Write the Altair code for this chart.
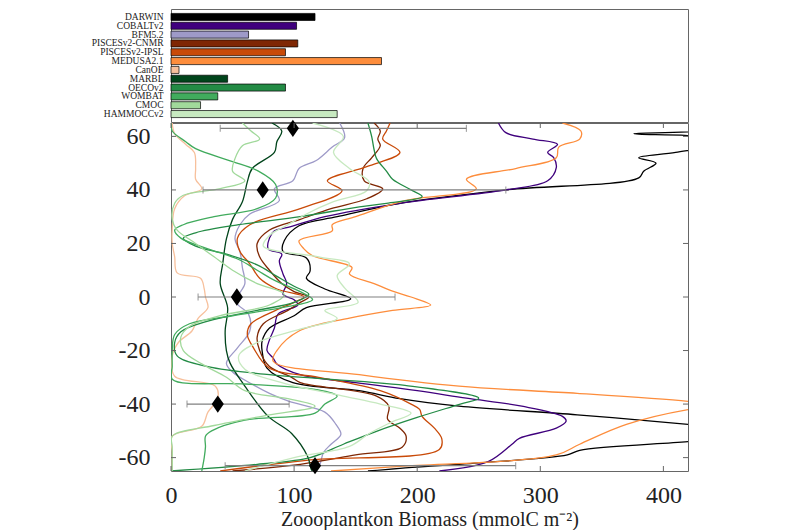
import altair as alt
import pandas as pd

MODELS = ["DARWIN", "COBALTv2", "BFM5.2", "PISCESv2-CNMR", "PISCESv2-IPSL", "MEDUSA2.1",
          "CanOE", "MARBL", "OECOv2", "WOMBAT", "CMOC", "HAMMOCCv2"]
COLORS = ["#000000", "#3f007d", "#9e9ac8", "#7f2704", "#c94a08", "#fd8d3c",
          "#f7c09c", "#00441b", "#238b45", "#41ab5d", "#a1d99b", "#c7e9c0"]
BAR_VALUES = [117, 102, 63, 103, 93, 171, 6.5, 46, 93, 38, 24, 135]

DARWIN_LAT = [65, 63, 61, 59, 57, 54, 52, 50, 47, 44.5, 40, 35, 30, 26.6, 21, 17, 14.6, 9.7, 7, 3, -0.7, -4, -7, -11.6, -16.5, -20, -26.6, -32, -35, -38, -40.8, -44, -47.6, -50, -52, -54, -57.3, -59, -62, -64, -65]
DARWIN_VAL = [440, 440, 376, 440, 440, 410, 380, 394, 384, 380, 272, 186, 135, 104, 92, 91, 110, 113, 110, 125, 146, 110, 100, 80, 74, 74, 78, 99, 153, 186, 234, 330, 421, 470, 470, 421, 332, 322, 250, 186, 160]

COBALT_LAT = [65, 61.4, 59, 57, 54, 52, 48.3, 43.4, 40, 35, 30, 26, 24.7, 22, 18, 16, 13.5, 8.6, 5, 1, -1, -3, -6.4, -11.6, -16, -20, -22.8, -25, -29, -32, -35, -37.8, -40.8, -44.6, -46.4, -49, -52.8, -55, -61.4, -65]
COBALT_VAL = [266, 272, 294, 314, 306, 311, 313, 306, 272, 186, 125, 95, 84, 80, 79, 90, 88, 91, 94, 91, 100, 103, 87, 84, 80, 78, 83, 86, 105, 150, 200, 240, 285, 318, 321, 313, 283, 277, 258, 218]

BFM_LAT = [65, 59.5, 56, 51, 48, 43.4, 40.4, 36, 31, 27, 21.7, 17, 11, 5, 0, -2.6, -6.4, -12.7, -19, -24.7, -28, -32.6, -36, -39, -43, -47.6, -51.3, -55, -58, -62.5, -65]
BFM_VAL = [137, 141, 131, 118, 104, 99, 84, 88, 64, 56, 52, 56, 58, 60, 54, 54, 63, 64, 54, 45, 50, 66, 80, 96, 125, 134, 138, 130, 124, 121, 118]

CNMR_LAT = [65, 62, 59, 56.5, 52, 48, 43.4, 40.4, 36.7, 33, 29, 25, 20, 15, 10, 5, 2, 0, -2, -5, -10, -15, -20, -26, -30, -32, -37, -40.8, -45.7, -49, -52, -56, -59, -62.5, -65]
CNMR_VAL = [165, 170, 168, 170, 163, 156, 157, 172, 159, 130, 105, 80, 70, 72, 80, 90, 100, 112, 105, 95, 75, 70, 72, 80, 98, 105, 167, 177, 176, 186, 191, 188, 150, 105, 50]

IPSL_LAT = [65, 62, 59, 54, 48.7, 43.4, 39.7, 33, 27, 22, 17, 12.4, 7, 3, 0, -2, -5, -10, -14, -19, -26.6, -30, -35, -40, -42, -44.6, -49, -53, -57, -61, -65]
IPSL_VAL = [178, 175, 172, 186, 159, 127, 139, 105, 64, 54, 56, 64, 72, 86, 108, 100, 85, 65, 62, 67, 80, 120, 170, 195, 202, 204, 214, 220, 218, 110, 40]

MEDUSA_LAT = [65, 62, 59, 56, 52, 48, 44, 40.4, 36, 30, 27, 24.7, 21, 18, 15.4, 11, 8.6, 5, 2.2, 0, -3, -5, -7.9, -12.7, -20, -24, -29, -33.3, -36, -39, -40.5, -42, -47.6, -55, -59, -63.3, -65]
MEDUSA_VAL = [318, 333, 332, 315, 313, 280, 240, 248, 190, 150, 131, 131, 104, 108, 115, 147, 145, 165, 180, 195, 211, 180, 145, 104, 86, 83, 153, 234, 330, 421, 450, 421, 370, 332, 313, 186, 130]

CANOE_LAT = [65, 61, 57, 54, 48, 44, 40.4, 37.8, 33, 25.5, 20, 15, 9, 7, 3, 0, -4, -8, -12.7, -17, -22, -29.6, -33.3, -38, -43, -48.3, -52, -58, -65]
CANOE_VAL = [1, 3, 12, 19, 20, 20, 25, 11, 3, 1, 1, 3, 5, 24, 27, 28, 30, 22, 17, 6, 1, 3, 36, 38, 30, 25, 1, 1, 1]

MARBL_LAT = [65, 62, 58, 54, 48, 43, 35.6, 29, 21.7, 12.4, 5, -4, -12.7, -20, -24.7, -33.3, -44.6, -51, -59.6, -64.4, -65]
MARBL_VAL = [82, 90, 86, 84, 66, 62, 58, 50, 45, 42, 40, 46, 44, 45, 48, 60, 79, 98, 111, 114, 115]

OECO_LAT = [65, 60, 55, 51.7, 47, 44, 40, 37.5, 35, 33.7, 30, 27, 24, 22, 19, 16, 12, 8, 4, 1, -2, -5, -9, -13, -17, -22, -26, -29, -33, -37.8, -40, -45, -50, -55, -60, -62.5, -65]
OECO_VAL = [160, 163, 165, 167, 175, 180, 195, 204, 175, 153, 105, 55, 20, 10, 20, 45, 70, 85, 100, 112, 100, 70, 30, 8, 3, 5, 30, 80, 190, 250, 235, 200, 168, 140, 113, 70, 0]

WOMBAT_LAT = [65, 62, 58, 55.4, 50.6, 47, 42, 37, 33, 30, 27, 25, 22, 18, 14, 10, 6, 2, -1, -4, -7, -10, -14, -20, -26, -30.7, -32.5, -34.5, -37, -40, -43.4, -46, -50, -52, -56, -60, -65]
WOMBAT_VAL = [0, 1, 12, 20, 50, 71, 85, 85, 70, 35, 10, 3, 8, 30, 55, 70, 85, 105, 115, 90, 50, 15, 3, 1, 1, 1, 60, 117, 135, 125, 117, 60, 33, 28, 28, 27, 25]

CMOC_LAT = [65, 62, 59, 56.5, 51.7, 47, 43.4, 40.5, 38, 35, 29, 25, 20, 15, 10, 5, 1, -3, -7, -11, -15, -20, -25, -30, -35, -38, -40.8, -44, -48, -52, -56, -60, -65]
CMOC_VAL = [58, 65, 72, 58, 52, 50, 60, 40, 10, 3, 1, 5, 20, 35, 50, 70, 92, 80, 40, 15, 8, 10, 25, 45, 60, 95, 117, 80, 35, 1, 1, 1, 1]

HAMMOCC_LAT = [65, 60, 54, 48, 43, 39.7, 35.6, 31, 27, 23, 19, 15, 12.4, 8, 3.4, -2, -5, -8, -12, -17, -22, -27, -32, -37, -40, -43.4, -47, -51, -55.8, -60, -65]
HAMMOCC_VAL = [115, 140, 132, 145, 161, 159, 132, 110, 95, 80, 75, 120, 145, 135, 141, 152, 125, 135, 105, 70, 55, 60, 90, 140, 170, 195, 178, 161, 145, 100, 60]

OBS_LAT = [63, 40, 0, -40, -63]
OBS_VAL = [99, 74.5, 53.5, 38, 117]
OBS_LO = [40, 26, 22, 13, 44]
OBS_HI = [240, 272, 182, 96, 280]

X_TICKS = [0, 100, 200, 300, 400]
Y_TICKS = [-60, -40, -20, 0, 20, 40, 60]

ALL_LAT = [DARWIN_LAT, COBALT_LAT, BFM_LAT, CNMR_LAT, IPSL_LAT, MEDUSA_LAT,
           CANOE_LAT, MARBL_LAT, OECO_LAT, WOMBAT_LAT, CMOC_LAT, HAMMOCC_LAT]
ALL_VAL = [DARWIN_VAL, COBALT_VAL, BFM_VAL, CNMR_VAL, IPSL_VAL, MEDUSA_VAL,
           CANOE_VAL, MARBL_VAL, OECO_VAL, WOMBAT_VAL, CMOC_VAL, HAMMOCC_VAL]

rows = []
for k, (m, lats, vals) in enumerate(zip(MODELS, ALL_LAT, ALL_VAL)):
    for i, (la, v) in enumerate(zip(lats, vals)):
        rows.append({"model": m, "lat": la, "val": v, "idx": i})
lines_df = pd.DataFrame(rows)
bars_df = pd.DataFrame({"model": MODELS, "value": BAR_VALUES})
obs_df = pd.DataFrame({"lat": OBS_LAT, "val": OBS_VAL, "lo": OBS_LO, "hi": OBS_HI})
xt_df = pd.DataFrame({"v": X_TICKS})
yt_df = pd.DataFrame({"v": Y_TICKS})

SERIF = "Liberation Serif"
W = 517
H = 348
XDOM = [0, 420]
YDOM = [-65, 65]
color_scale = alt.Scale(domain=MODELS, range=COLORS)

top = alt.Chart(bars_df).mark_bar(stroke="black", strokeWidth=0.7).encode(
    y=alt.Y("model:N", sort=MODELS,
            scale=alt.Scale(paddingInner=0.2, paddingOuter=0.5),
            axis=alt.Axis(title=None, ticks=False, domain=False, labelFont=SERIF,
                          labelFontSize=9.5, labelPadding=8, labelColor="#222")),
    x=alt.X("value:Q", scale=alt.Scale(domain=XDOM), axis=None),
    color=alt.Color("model:N", scale=color_scale, legend=None),
).properties(width=W, height=113)

xs = alt.Scale(domain=XDOM, nice=False)
ys = alt.Scale(domain=YDOM, nice=False)

lines = alt.Chart(lines_df).mark_line(strokeWidth=1.3, clip=True, interpolate="catmull-rom").encode(
    x=alt.X("val:Q", scale=xs,
            axis=alt.Axis(values=X_TICKS, title="Zoooplantkon Biomass (mmolC m\u207b\u00b2)",
                          ticks=False, grid=False, labelFont=SERIF, labelFontSize=24,
                          labelPadding=12, labelFlush=False, titleFont=SERIF, titleFontSize=20,
                          titleFontWeight="normal", titlePadding=2, domain=False,
                          labelColor="#222", titleColor="#222")),
    y=alt.Y("lat:Q", scale=ys,
            axis=alt.Axis(values=Y_TICKS, title=None, ticks=False, grid=False,
                          labelFont=SERIF, labelFontSize=24, labelPadding=21,
                          domain=False, labelExpr="'' + datum.value", labelColor="#222")),
    color=alt.Color("model:N", scale=color_scale, legend=None),
    detail="model:N",
    order=alt.Order("idx:Q"),
)

err = alt.Chart(obs_df).mark_rule(color="#808080", strokeWidth=1.2).encode(
    x="lo:Q", x2="hi:Q", y="lat:Q")
cap_lo = alt.Chart(obs_df).mark_tick(color="#808080", orient="vertical", size=7, thickness=1.2).encode(
    x="lo:Q", y="lat:Q")
cap_hi = alt.Chart(obs_df).mark_tick(color="#808080", orient="vertical", size=7, thickness=1.2).encode(
    x="hi:Q", y="lat:Q")
diam = alt.Chart(obs_df).mark_point(shape="M0,-1L0.7,0L0,1L-0.7,0Z", filled=True,
                                    color="black", opacity=1, size=300).encode(
    x="val:Q", y="lat:Q")

tick_b = alt.Chart(xt_df).mark_rule(color="#666").encode(x="v:Q", y=alt.value(H), y2=alt.value(H - 5))
tick_t = alt.Chart(xt_df).mark_rule(color="#666").encode(x="v:Q", y=alt.value(0), y2=alt.value(5))
tick_l = alt.Chart(yt_df).mark_rule(color="#666").encode(y="v:Q", x=alt.value(0), x2=alt.value(5))
tick_r = alt.Chart(yt_df).mark_rule(color="#666").encode(y="v:Q", x=alt.value(W - 5), x2=alt.value(W))

bottom = alt.layer(lines, err, cap_lo, cap_hi, diam, tick_b, tick_t, tick_l, tick_r).properties(
    width=W, height=H)

chart = alt.vconcat(top, bottom, spacing=1, bounds="flush").properties(
    padding={"left": 82, "top": 0, "right": 5, "bottom": 0}
).configure_view(stroke="#666", strokeWidth=1)

chart.save("out.html", embed_options={"renderer": "svg", "actions": False})
